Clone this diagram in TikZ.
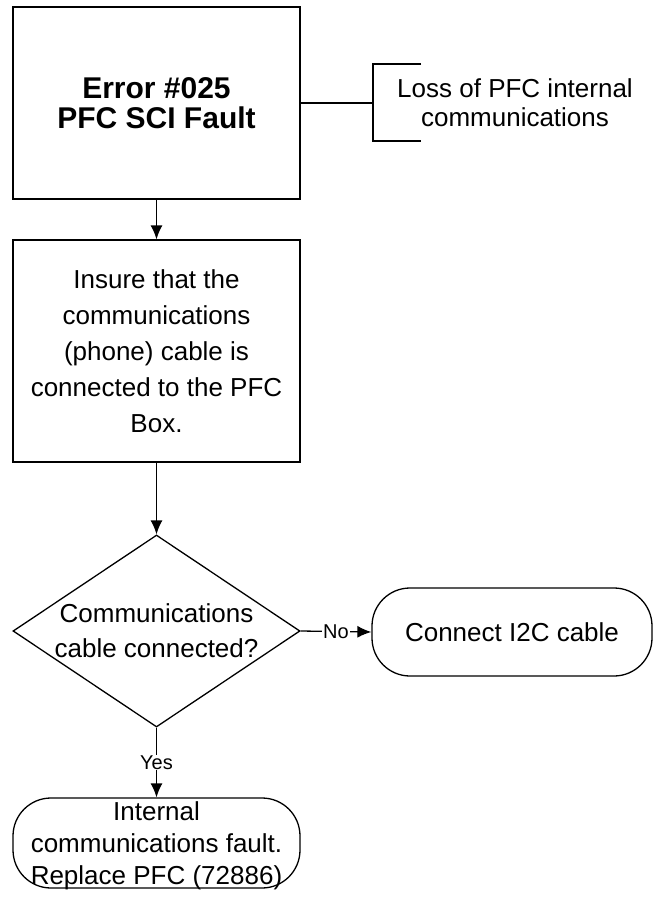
\documentclass[tikz,border=0pt]{standalone}
\usepackage{fontspec}
\setmainfont{Liberation Sans}
\usetikzlibrary{arrows.meta,positioning,shapes.geometric}
\tikzset{
  base/.style={draw=black,line width=1.3pt,align=center,inner sep=0pt,
    font=\fontsize{26}{33}\selectfont},
  errbox/.style={base,minimum width=287pt,minimum height=192pt,
    font=\fontsize{30}{30}\selectfont\bfseries},
  stepbox/.style={base,minimum width=287pt,minimum height=222pt,
    font=\fontsize{26}{36}\selectfont},
  decision/.style={base,diamond,aspect=1.5,inner sep=-6pt,
    minimum width=287pt,minimum height=192pt,
    font=\fontsize{26}{35}\selectfont},
  terminal/.style={base,rounded corners=38pt,inner ysep=-8pt},
  note/.style={align=center,inner sep=0pt,font=\fontsize{26}{29}\selectfont},
  lbl/.style={fill=white,inner sep=1pt,font=\fontsize{20}{20}\selectfont},
  arrow/.style={-{Latex[length=14pt,width=12pt]},line width=1.3pt}
}
\begin{document}
\begin{tikzpicture}[x=1pt,y=-1pt]
\useasboundingbox (0,0) rectangle (655,897);
% flow
\node[errbox] (err) at (156.5,103) {Error \#025\\PFC SCI Fault};
\node[stepbox] (chk) at (156.5,351) {Insure that the\\communications\\(phone) cable is\\connected to the PFC\\Box.};
\node[decision] (dec) at (156.5,631) {Communications\\cable connected?};
\node[terminal,minimum width=280pt,minimum height=88pt] (conn) at (512,632) {Connect I2C cable};
\node[terminal,minimum width=287pt,minimum height=90pt,text depth=-6pt,
  font=\fontsize{26}{32}\selectfont] (repl) at (156.5,843)
  {Internal\\communications fault.\\Replace PFC (72886)};
% annotation
\node[note] (loss) at (515,103) {Loss of PFC internal\\communications};
\coordinate (nm) at (373,103);
\coordinate (nt) at (421,64);
\coordinate (nb) at (421,141);
\draw[line width=1.3pt] (err.east) -- (nm);
\draw[line width=1.3pt] (nt) -| (nm |- nb) -- (nb);
% connectors
\draw[arrow] (err) -- (chk);
\draw[arrow] (chk) -- (dec);
\draw[arrow] (dec.east) -- node[lbl] {No} (conn.west);
\draw[arrow] (dec.south) -- node[lbl] {Yes} (repl.north);
\end{tikzpicture}
\end{document}
